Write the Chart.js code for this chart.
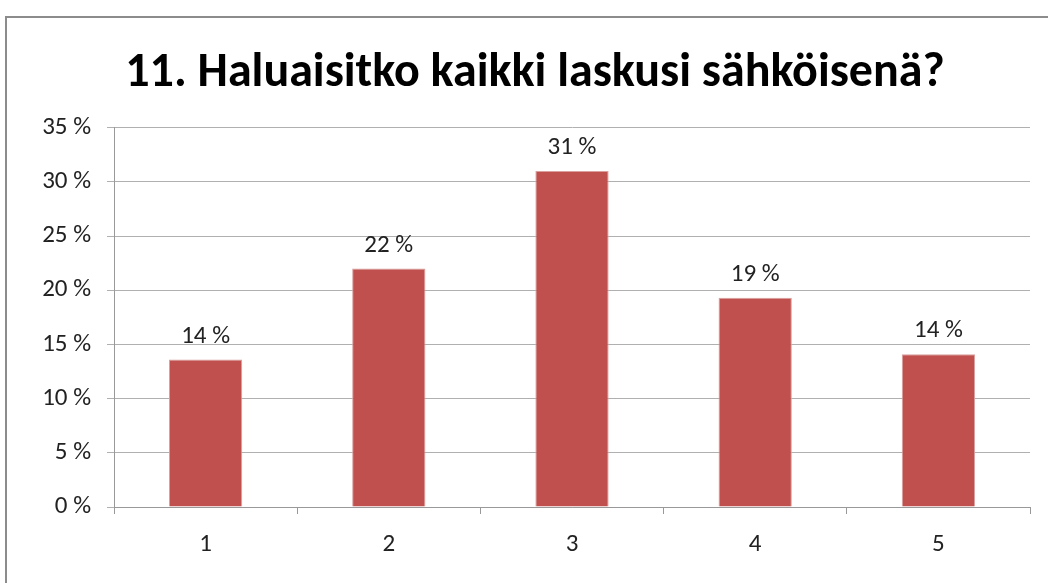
<!DOCTYPE html>
<html lang="fi">
<head>
<meta charset="UTF-8" />
<title>11. Haluaisitko kaikki laskusi sähköisenä?</title>
<script src="https://cdn.jsdelivr.net/npm/chart.js@4/dist/chart.umd.min.js"></script>
<style>
  html, body { margin: 0; padding: 0; background: #fff; overflow: hidden; }
  #frame { position: absolute; left: 5px; top: 16px; width: 1100px; height: 600px;
           border-left: 2px solid #8c8c8c; border-top: 2px solid #8c8c8c; }
  #wrap { position: absolute; left: 0; top: 0; width: 1048px; height: 583px; }
</style>
</head>
<body>
<div id="frame"></div>
<div id="wrap"><canvas id="mychart" width="1048" height="583"></canvas></div>
<script>
const categories = ["1", "2", "3", "4", "5"];
const shares = [13.6, 22.0, 31.0, 19.3, 14.1];
const yTicks = [0, 5, 10, 15, 20, 25, 30, 35];

const labelFont = "Carlito, 'Liberation Sans Narrow', 'Open Sans', sans-serif";

// labels above the bars
const valueLabels = {
    id: 'valueLabels',
    afterDatasetsDraw(chart) {
        const c = chart.ctx;
        const meta = chart.getDatasetMeta(0);
        c.save();
        c.font = "25px " + labelFont;
        c.fillStyle = "#222";
        c.textAlign = "center";
        c.textBaseline = "alphabetic";
        meta.data.forEach((bar, i) => {
            c.fillText(Math.round(shares[i]) + " %", bar.x, bar.y - 17);
        });
        c.restore();
    }
};

const ctx = document.getElementById("mychart").getContext("2d");
new Chart(ctx, {
    type: 'bar',
    data: {
        labels: categories,
        datasets: [{
            data: shares,
            backgroundColor: '#C0504D',
            borderColor: '#d9a09e',
            borderWidth: 1,
            categoryPercentage: 1.0,
            barPercentage: 0.4
        }]
    },
    options: {
        responsive: false,
        animation: false,
        layout: { padding: { left: 40, right: 18, top: 0, bottom: 0 } },
        plugins: {
            legend: { display: false },
            tooltip: { enabled: false },
            title: {
                display: true,
                text: "11. Haluaisitko kaikki laskusi sähköisenä?",
                color: '#000',
                font: { family: labelFont, size: 48, weight: 'bold', lineHeight: 1.2 },
                padding: { top: 45, bottom: 25 }
            }
        },
        scales: {
            x: {
                grid: { drawOnChartArea: false, drawTicks: true, tickLength: 7, color: '#999' },
                border: { color: '#999' },
                ticks: { color: '#222', padding: 16, font: { family: labelFont, size: 25 } },
                afterFit(s) { s.height = 76; }
            },
            y: {
                min: 0,
                max: 35,
                afterBuildTicks(s) { s.ticks = yTicks.map(v => ({ value: v })); },
                grid: { color: '#b0b0b0', tickLength: 7 },
                border: { color: '#999' },
                ticks: {
                    color: '#222', padding: 16,
                    font: { family: labelFont, size: 25 },
                    callback: v => v + " %"
                },
                afterFit(s) { s.width = 74; }
            }
        }
    },
    plugins: [valueLabels]
});
</script>
</body>
</html>
